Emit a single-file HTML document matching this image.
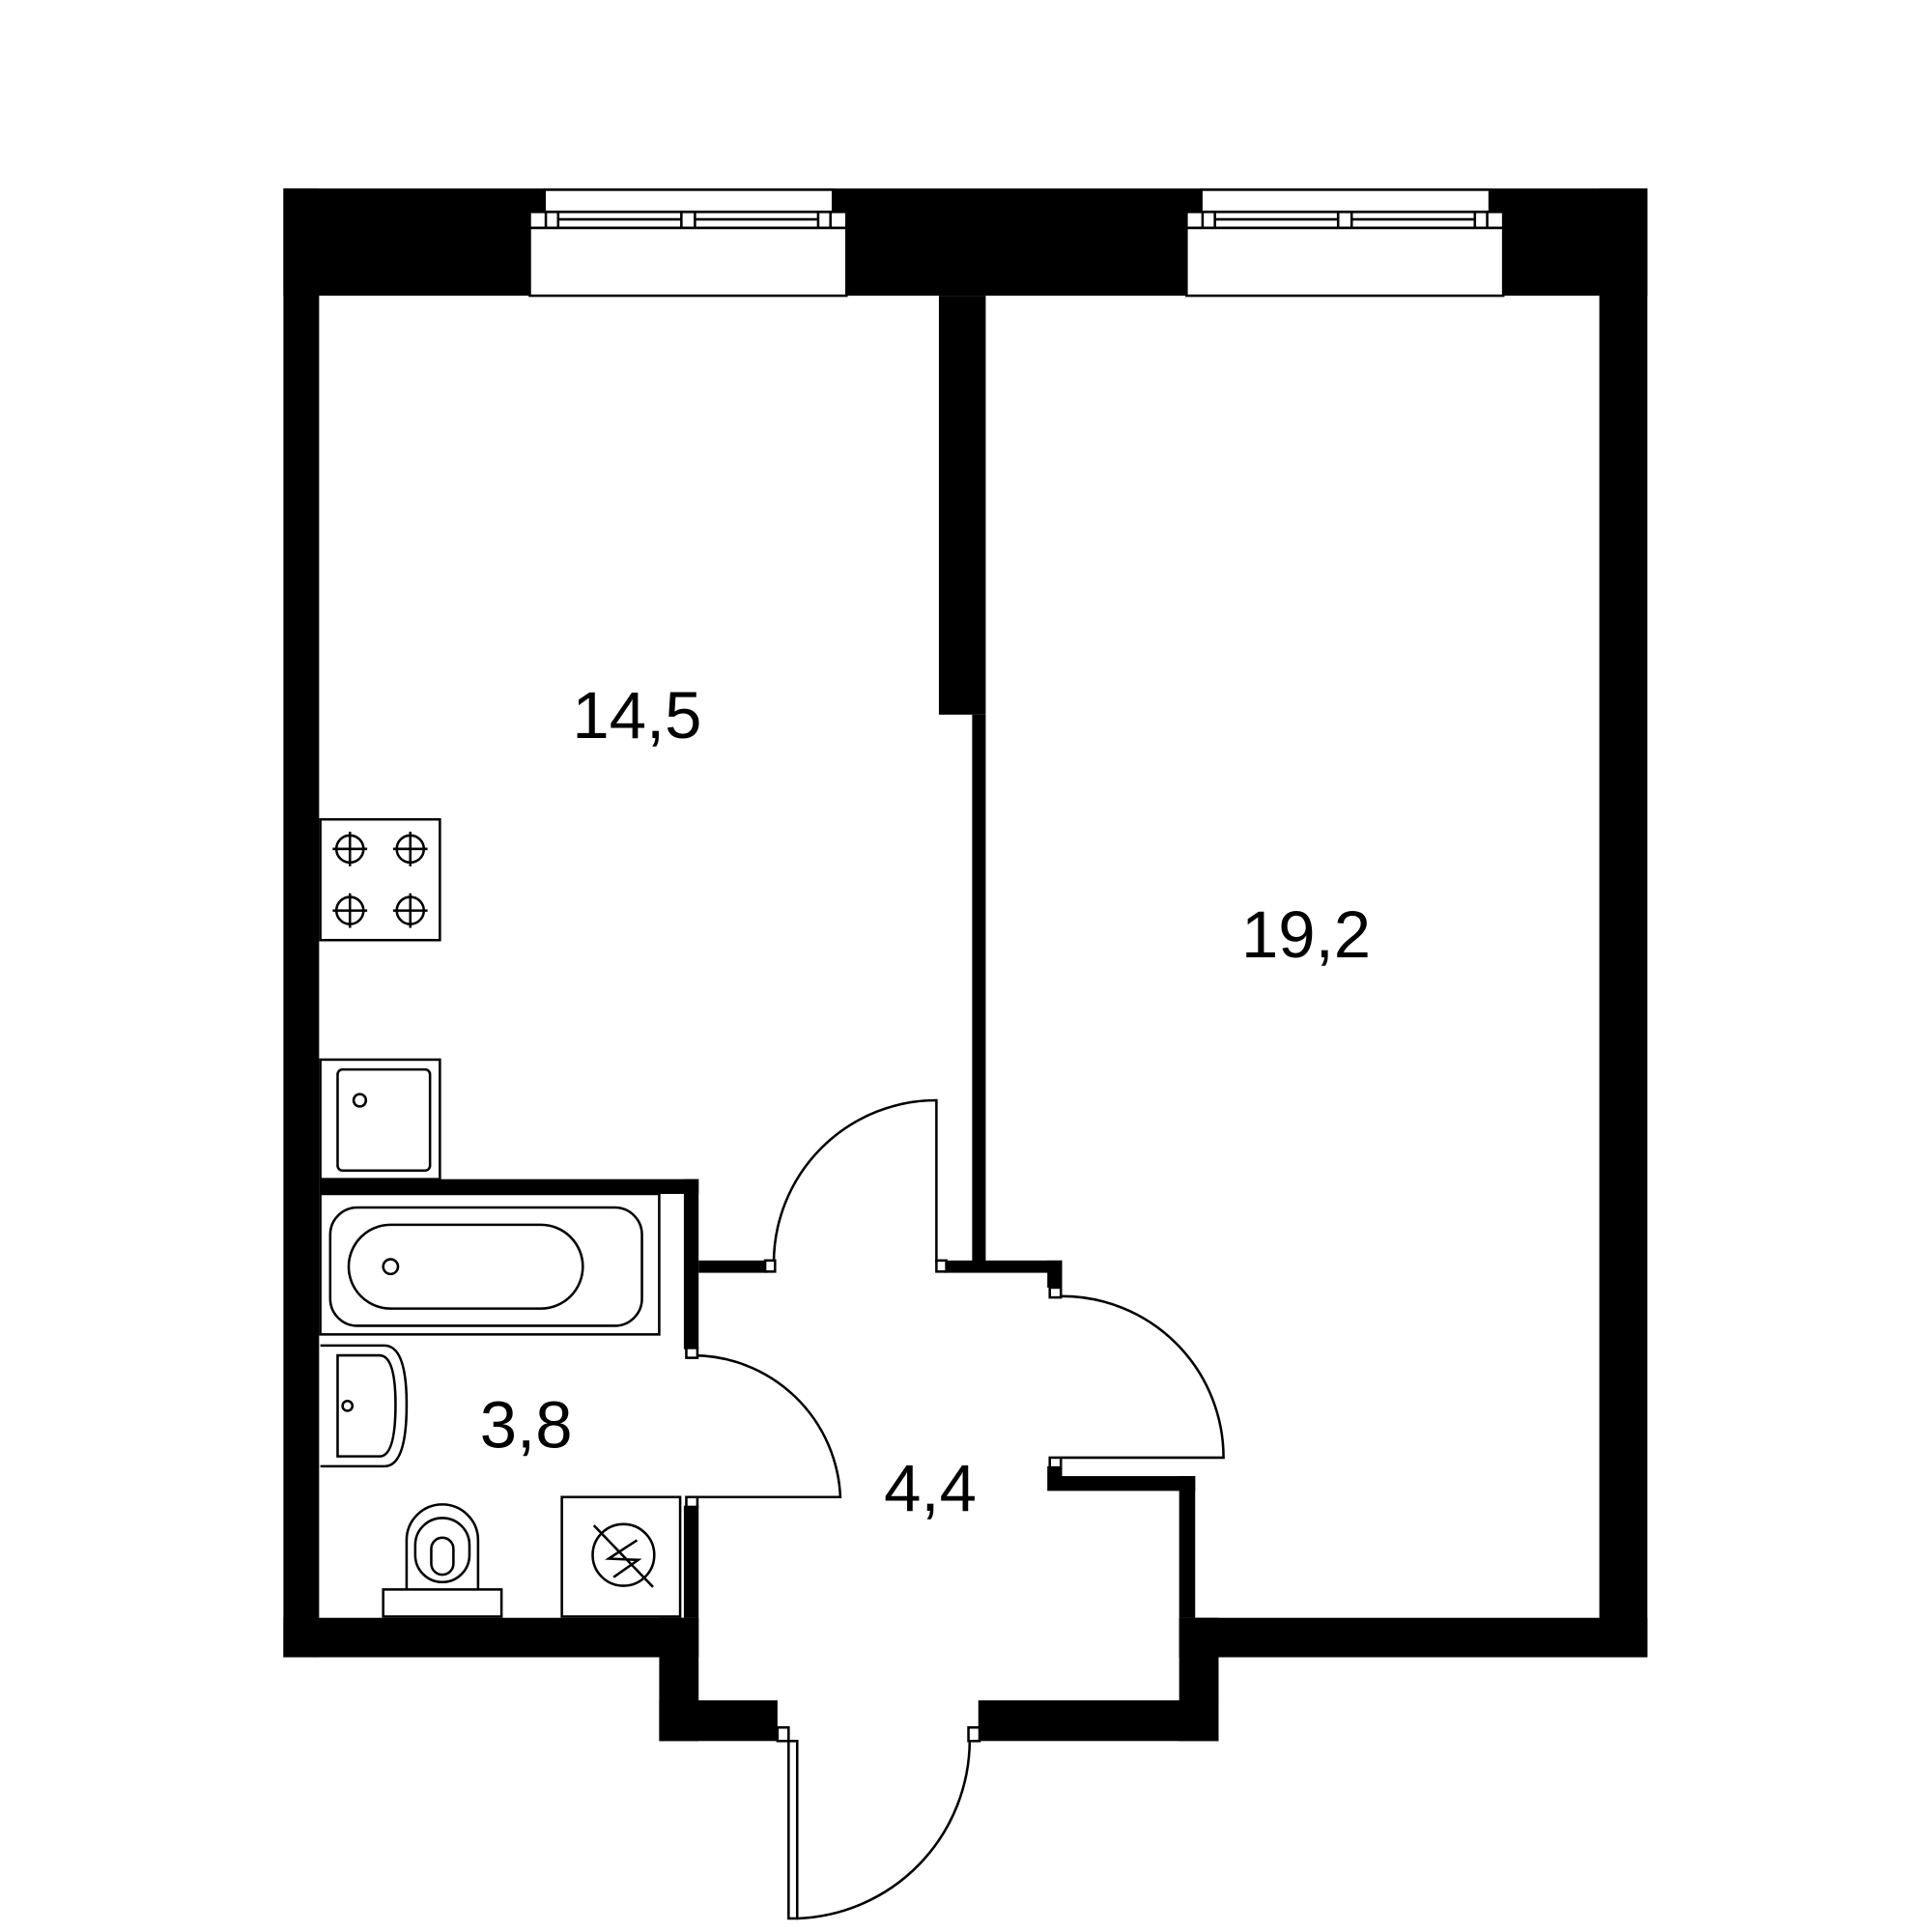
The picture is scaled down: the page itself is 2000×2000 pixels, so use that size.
<!DOCTYPE html>
<html><head><meta charset="utf-8"><style>html,body{margin:0;padding:0;background:#fff}svg{display:block}</style></head>
<body>
<svg width="2000" height="2000" viewBox="0 0 1568 1568" xmlns="http://www.w3.org/2000/svg">
<rect width="1568" height="1568" fill="#fff"/>
<g fill="#000">
<rect x="230" y="153" width="1107" height="87"/>
<rect x="230" y="153" width="29" height="1192"/>
<rect x="1298" y="153" width="39" height="1192"/>
<rect x="230" y="1313" width="337" height="32"/>
<rect x="535" y="1313" width="32" height="100"/>
<rect x="535" y="1380" width="96" height="33"/>
<rect x="794" y="1380" width="195" height="33"/>
<rect x="957" y="1313" width="380" height="32"/>
<rect x="957" y="1313" width="32" height="100"/>
<rect x="762" y="240" width="38" height="340"/>
<rect x="789" y="580" width="11" height="445"/>
<rect x="766" y="1023" width="96" height="10"/>
<rect x="850" y="1023" width="12" height="22"/>
<rect x="259" y="957" width="308" height="12"/>
<rect x="555" y="957" width="12" height="138"/>
<rect x="567" y="1023" width="56" height="10"/>
<rect x="555" y="1222" width="12" height="91"/>
<rect x="850" y="1190" width="12" height="20"/>
<rect x="862" y="1198" width="108" height="12"/>
<rect x="957" y="1198" width="13" height="115"/>
</g>
<g fill="#fff" stroke="#000" stroke-width="2">
<rect x="442" y="154" width="234" height="18"/>
<rect x="430" y="172" width="257" height="13"/>
<line x1="453" y1="178" x2="664" y2="178"/>
<rect x="443" y="172" width="10" height="13"/><rect x="553" y="172" width="11" height="13"/><rect x="664" y="172" width="10" height="13"/>
<rect x="430" y="185" width="257" height="55"/>
<rect x="975" y="154" width="234" height="18"/>
<rect x="963" y="172" width="257" height="13"/>
<line x1="986" y1="178" x2="1197" y2="178"/>
<rect x="976" y="172" width="10" height="13"/><rect x="1086" y="172" width="11" height="13"/><rect x="1197" y="172" width="10" height="13"/>
<rect x="963" y="185" width="257" height="55"/>
</g>
<g fill="none" stroke="#000" stroke-width="2">
<path d="M760 1025 V893 A132 132 0 0 0 628 1025"/>
<path d="M862 1183 H993 A131 131 0 0 0 862 1052"/>
<path d="M562 1215 H682 A120 120 0 0 0 562 1100"/>
<rect x="640" y="1413" width="7" height="144"/>
<path d="M647 1557 A145 145 0 0 0 787 1413"/>
</g>
<g fill="#fff" stroke="#000" stroke-width="2">
<rect x="621" y="1023" width="8" height="9"/><rect x="760" y="1023" width="8" height="9"/>
<rect x="852" y="1045" width="9" height="8"/><rect x="852" y="1183" width="9" height="8"/>
<rect x="557" y="1094" width="9" height="8"/><rect x="557" y="1215" width="9" height="8"/>
<rect x="631" y="1402" width="9" height="11"/><rect x="786" y="1402" width="9" height="11"/>
</g>
<g fill="none" stroke="#000" stroke-width="2">
<rect x="260" y="665" width="97" height="98"/>
<g id="b"><circle cx="284" cy="689" r="11"/><line x1="270" y1="689" x2="298" y2="689"/><line x1="284" y1="675" x2="284" y2="703"/></g>
<use href="#b" x="49"/><use href="#b" y="50"/><use href="#b" x="49" y="50"/>
<rect x="260" y="860" width="97" height="97"/>
<rect x="274" y="868" width="75" height="82" rx="4"/>
<circle cx="292" cy="893" r="5"/>
<rect x="260" y="969" width="275" height="114"/>
<rect x="268" y="980" width="253" height="96" rx="22"/>
<rect x="283" y="994" width="190" height="68" rx="34"/>
<circle cx="317" cy="1028" r="6"/>
<path d="M260 1092 H312 Q330 1092 330 1140 Q330 1190 312 1190 H260"/>
<path d="M274 1100 H308 Q321 1100 321 1140 Q321 1182 308 1182 H274 Z"/>
<circle cx="282" cy="1141" r="4"/>
<rect x="311" y="1290" width="96" height="22"/>
<path d="M330 1290 V1250 A29 29 0 0 1 388 1250 V1290"/>
<rect x="337" y="1232" width="44" height="52" rx="22"/>
<rect x="350" y="1248" width="18" height="30" rx="9"/>
<rect x="456" y="1215" width="96" height="97"/>
<circle cx="506" cy="1262" r="25"/>
<path d="M482 1238 L530 1288 M517 1250 L494 1265 L518 1266 L498 1280"/>
</g>
<g font-family="'Liberation Sans', sans-serif" font-size="54" fill="#000" text-anchor="middle">
<text x="517" y="599">14,5</text>
<text x="1060" y="777">19,2</text>
<text x="427" y="1175">3,8</text>
<text x="755" y="1226">4,4</text>
</g>
</svg>
</body></html>
